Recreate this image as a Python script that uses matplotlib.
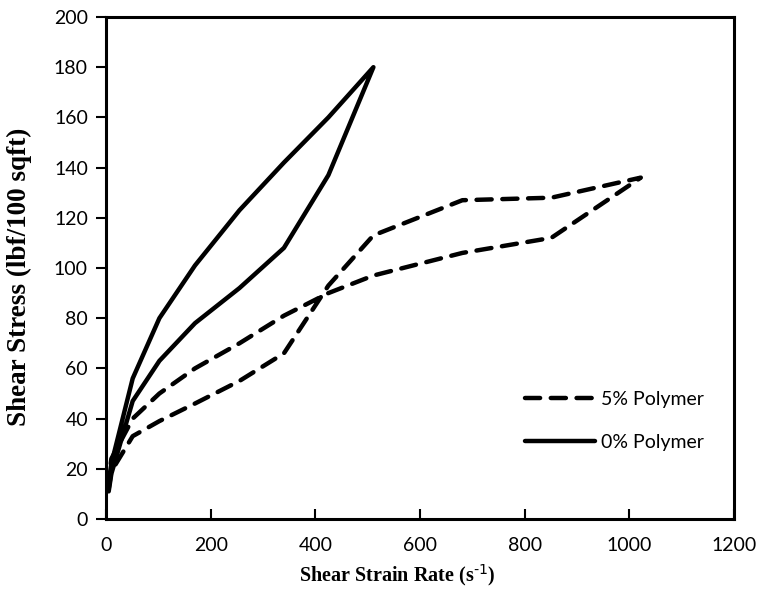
import numpy as np
import matplotlib
matplotlib.use('Agg')
import matplotlib.pyplot as plt

# shear rates (s^-1)
rate_0_up = [5.1, 10.2, 51, 102, 170, 255, 340, 425, 511]
stress_0_up = [11, 18, 47, 63, 78, 92, 108, 137, 180]
rate_0_down = [511, 425, 340, 255, 170, 102, 51, 10.2, 5.1]
stress_0_down = [180, 160, 142, 123, 101, 80, 56, 22, 15]

rate_5_up = [5.1, 10.2, 51, 102, 170, 255, 340, 425, 511, 681, 851, 1022]
stress_5_up = [12, 19, 33, 39, 46, 55, 66, 93, 113, 127, 128, 136]
rate_5_down = [1022, 851, 681, 511, 425, 340, 255, 170, 102, 51, 10.2, 5.1]
stress_5_down = [136, 112, 106, 97, 90, 81, 70, 60, 50, 40, 24, 16]

x_ticks = [0, 200, 400, 600, 800, 1000, 1200]
y_ticks = [0, 20, 40, 60, 80, 100, 120, 140, 160, 180, 200]

# solid = 0% polymer, dashed = 5% polymer (down curve follows up curve)
rate_0 = rate_0_up + rate_0_down[1:]
stress_0 = stress_0_up + stress_0_down[1:]
rate_5 = rate_5_up + rate_5_down[1:]
stress_5 = stress_5_up + stress_5_down[1:]

fig = plt.figure(figsize=(7.75, 5.96), dpi=100)
ax = fig.add_axes([0.1368, 0.1292, 0.8102, 0.8423])

ax.plot(rate_5, stress_5, color='black', lw=3.2, linestyle=(0, (3.4, 2.4)),
        dash_capstyle='round', solid_joinstyle='round', label='5% Polymer')
ax.plot(rate_0, stress_0, color='black', lw=3.2, solid_capstyle='round',
        solid_joinstyle='round', label='0% Polymer')

ax.set_xlim(0, 1200)
ax.set_ylim(0, 200)
ax.set_xticks(x_ticks)
ax.set_yticks(y_ticks)

tick_font = 'Lato'
for lab in ax.get_xticklabels() + ax.get_yticklabels():
    lab.set_fontfamily(tick_font)
    lab.set_fontsize(14)

ax.tick_params(axis='x', direction='in', length=7, width=1.5, pad=13)
ax.tick_params(axis='y', direction='out', length=7, width=1.5, pad=6)
for s in ax.spines.values():
    s.set_linewidth(2.2)

ax.set_xlabel('Shear Strain Rate (s$^{\\text{-1}}$)', fontfamily='Liberation Serif',
              fontweight='bold', fontsize=14.5)
ax.set_ylabel('Shear Stress (lbf/100 sqft)', fontfamily='Liberation Serif',
              fontweight='bold', fontsize=19.5)
ax.xaxis.set_label_coords(0.463, -0.086)
ax.yaxis.set_label_coords(-0.118, 0.482)

leg = ax.legend(loc='center left', bbox_to_anchor=(0.64, 0.195), frameon=False,
                handlelength=3.6, labelspacing=1.35, handletextpad=0.3,
                prop={'family': tick_font, 'size': 14})

fig.savefig('out.png', dpi=100)
